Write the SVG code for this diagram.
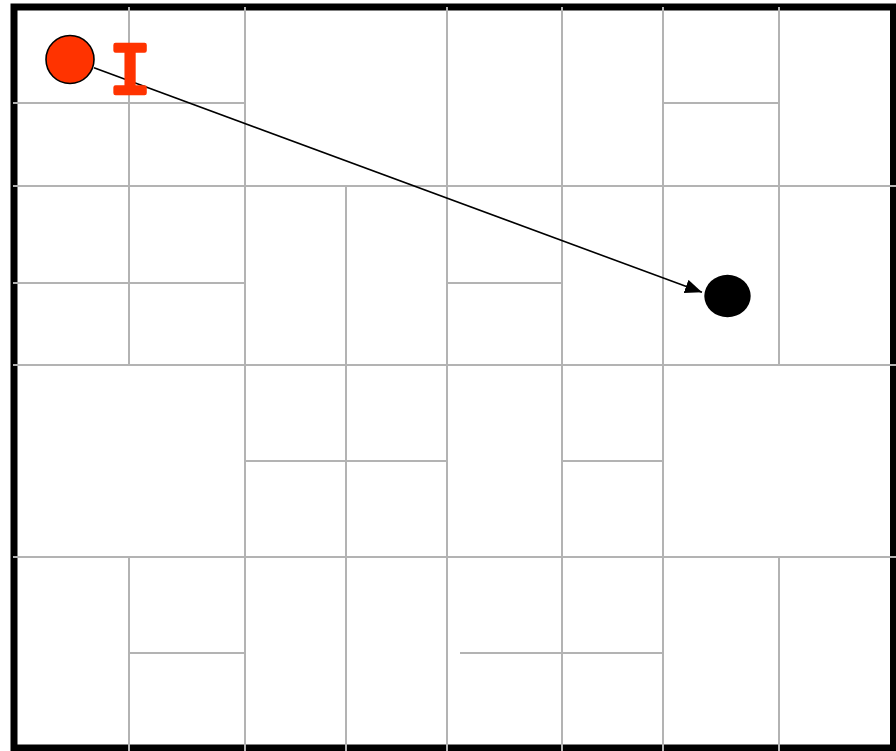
<svg xmlns="http://www.w3.org/2000/svg" width="896" height="751" viewBox="0 0 896 751">
  <style>
    .grid line { stroke: #b3b3b3; stroke-width: 2; }
    .conn { stroke: #000; stroke-width: 1.6; fill: none; }
  </style>
  <defs>
    <marker id="arrow" markerUnits="userSpaceOnUse" markerWidth="18" markerHeight="16" refX="17" refY="7" orient="auto">
      <path d="M0,0 L17,7 L0,14 z" fill="#000"/>
    </marker>
  </defs>
  <rect x="0" y="0" width="896" height="751" fill="#fff"/>
  <rect id="border" x="14" y="7" width="879.5" height="741" fill="none" stroke="#000" stroke-width="7"/>
  <g class="grid" id="grid">
    <line x1="13" y1="186" x2="896" y2="186"/>
    <line x1="13" y1="365" x2="896" y2="365"/>
    <line x1="13" y1="557" x2="896" y2="557"/>
    <line x1="13" y1="103" x2="245" y2="103"/>
    <line x1="663" y1="103" x2="779" y2="103"/>
    <line x1="13" y1="283" x2="245" y2="283"/>
    <line x1="447" y1="283" x2="562" y2="283"/>
    <line x1="245" y1="461" x2="447" y2="461"/>
    <line x1="562" y1="461" x2="663" y2="461"/>
    <line x1="129" y1="653" x2="245" y2="653"/>
    <line x1="460" y1="653" x2="663" y2="653"/>
    <line x1="129" y1="7" x2="129" y2="365"/>
    <line x1="129" y1="557" x2="129" y2="751"/>
    <line x1="245" y1="7" x2="245" y2="751"/>
    <line x1="346" y1="186" x2="346" y2="751"/>
    <line x1="447" y1="7" x2="447" y2="751"/>
    <line x1="562" y1="7" x2="562" y2="751"/>
    <line x1="663" y1="7" x2="663" y2="751"/>
    <line x1="779" y1="7" x2="779" y2="365"/>
    <line x1="779" y1="557" x2="779" y2="751"/>
  </g>
  <g id="connectors">
    <line class="conn" x1="94" y1="67.7" x2="702" y2="292.3" marker-end="url(#arrow)"/>
  </g>
  <g id="start-node">
    <circle cx="70" cy="59.5" r="24" fill="#ff3300" stroke="#000" stroke-width="1.6"/>
  </g>
  <g id="label-I">
    <text x="130" y="93" font-family="Liberation Mono, DejaVu Sans Mono, monospace" font-size="72" fill="#ff3300" stroke="#ff3300" stroke-width="4.5" stroke-linejoin="round" stroke-linecap="round" text-anchor="middle">I</text>
  </g>
  <g id="end-node">
    <ellipse cx="727.5" cy="296" rx="23.2" ry="21.2" fill="#000"/>
  </g>
</svg>
